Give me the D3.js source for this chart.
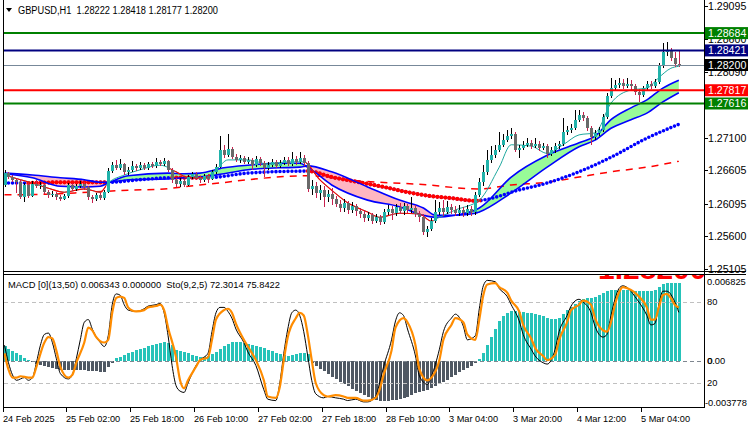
<!DOCTYPE html>
<html><head><meta charset="utf-8">
<script src="https://cdn.jsdelivr.net/npm/d3@7"></script>
<style>body{margin:0;background:#fff;} svg{display:block;font-family:"Liberation Sans",Arial,sans-serif;}</style>
</head><body>
<svg id="c" width="750" height="430"></svg>
<script>
// ---------- DATA ----------
const symbolTitle = "GBPUSD,H1  1.28222 1.28418 1.28177 1.28200";
const subTitle = "MACD [0](13,50) 0.006343 0.000000  Sto(9,2,5) 72.3014 75.8422";

const opens = [1.2638,1.2656,1.2650,1.2646,1.2642,1.2620,1.2638,1.2621,1.2640,1.2636,
1.2638,1.2627,1.2623,1.2624,1.2620,1.2617,1.2621,1.2638,1.2632,1.2636,
1.2640,1.2635,1.2620,1.2617,1.2623,1.2618,1.2627,1.2659,1.2668,1.2664,
1.2670,1.2658,1.2661,1.2667,1.2664,1.2668,1.2664,1.2670,1.2667,1.2673,
1.2670,1.2674,1.2661,1.2646,1.2640,1.2644,1.2638,1.2650,1.2655,1.2649,
1.2646,1.2652,1.2647,1.2658,1.2665,1.2691,1.2684,1.2693,1.2680,1.2676,
1.2679,1.2673,1.2676,1.2668,1.2677,1.2671,1.2664,1.2668,1.2673,1.2667,
1.2671,1.2676,1.2670,1.2677,1.2673,1.2679,1.2671,1.2632,1.2636,1.2626,
1.2630,1.2620,1.2624,1.2617,1.2609,1.2603,1.2611,1.2600,1.2606,1.2599,
1.2594,1.2588,1.2592,1.2583,1.2589,1.2582,1.2597,1.2602,1.2595,1.2605,
1.2599,1.2606,1.2600,1.2603,1.2594,1.2589,1.2567,1.2571,1.2583,1.2597,
1.2603,1.2597,1.2605,1.2600,1.2595,1.2600,1.2595,1.2602,1.2597,1.2623,
1.2642,1.2658,1.2676,1.2684,1.2691,1.2699,1.2706,1.2712,1.2715,1.2691,
1.2694,1.2699,1.2702,1.2697,1.2700,1.2694,1.2697,1.2685,1.2691,1.2697,
1.2700,1.2718,1.2721,1.2724,1.2737,1.2744,1.2740,1.2724,1.2711,1.2717,
1.2721,1.2741,1.2773,1.2785,1.2790,1.2793,1.2788,1.2791,1.2788,1.2779,
1.2774,1.2785,1.2791,1.2788,1.2794,1.2818,1.2840,1.2843,1.2831,1.28222];

const highs = [1.2661,1.2658,1.2653,1.2649,1.2646,1.2641,1.2641,1.2644,1.2646,1.2642,
1.2639,1.2630,1.2629,1.2627,1.2623,1.2624,1.2641,1.2641,1.2639,1.2644,
1.2642,1.2636,1.2623,1.2626,1.2626,1.2630,1.2664,1.2673,1.2676,1.2677,
1.2671,1.2665,1.2674,1.2670,1.2673,1.2671,1.2673,1.2673,1.2679,1.2676,
1.2679,1.2676,1.2664,1.2649,1.2649,1.2647,1.2653,1.2658,1.2658,1.2652,
1.2655,1.2655,1.2661,1.2670,1.2712,1.2699,1.2715,1.2696,1.2685,1.2683,
1.2682,1.2680,1.2679,1.2682,1.2680,1.2674,1.2673,1.2677,1.2676,1.2676,
1.2680,1.2680,1.2688,1.2682,1.2688,1.2683,1.2674,1.2646,1.2642,1.2638,
1.2636,1.2630,1.2633,1.2621,1.2615,1.2617,1.2614,1.2612,1.2609,1.2603,
1.2599,1.2597,1.2595,1.2594,1.2592,1.2602,1.2608,1.2606,1.2609,1.2611,
1.2611,1.2609,1.2620,1.2608,1.2599,1.2594,1.2576,1.2588,1.2615,1.2612,
1.2615,1.2614,1.2609,1.2606,1.2608,1.2605,1.2608,1.2606,1.2627,1.2649,
1.2668,1.2691,1.2697,1.2699,1.2718,1.2715,1.2721,1.2724,1.2718,1.2699,
1.2705,1.2709,1.2706,1.2709,1.2705,1.2702,1.2700,1.2696,1.2702,1.2705,
1.2740,1.2727,1.2730,1.2752,1.2752,1.2749,1.2743,1.2727,1.2721,1.2726,
1.2746,1.2778,1.2800,1.2797,1.2800,1.2799,1.2800,1.2797,1.2791,1.2784,
1.2788,1.2796,1.2796,1.2799,1.2823,1.2853,1.2855,1.2846,1.2840,1.28418];

const lows = [1.2635,1.2647,1.2642,1.2626,1.2617,1.2612,1.2618,1.2620,1.2633,1.2632,
1.2624,1.2618,1.2620,1.2615,1.2614,1.2615,1.2618,1.2629,1.2629,1.2633,
1.2630,1.2615,1.2611,1.2614,1.2615,1.2615,1.2626,1.2656,1.2661,1.2661,
1.2653,1.2653,1.2658,1.2659,1.2661,1.2661,1.2661,1.2664,1.2664,1.2667,
1.2667,1.2658,1.2641,1.2635,1.2635,1.2635,1.2636,1.2647,1.2646,1.2641,
1.2642,1.2641,1.2646,1.2655,1.2664,1.2679,1.2680,1.2677,1.2673,1.2671,
1.2670,1.2670,1.2661,1.2665,1.2667,1.2650,1.2661,1.2665,1.2664,1.2664,
1.2668,1.2667,1.2667,1.2668,1.2670,1.2667,1.2627,1.2623,1.2618,1.2615,
1.2605,1.2612,1.2608,1.2605,1.2597,1.2597,1.2594,1.2595,1.2591,1.2588,
1.2582,1.2583,1.2579,1.2580,1.2577,1.2579,1.2592,1.2585,1.2591,1.2594,
1.2592,1.2595,1.2595,1.2589,1.2582,1.2562,1.2559,1.2568,1.2580,1.2592,
1.2591,1.2594,1.2594,1.2591,1.2591,1.2589,1.2591,1.2591,1.2592,1.2620,
1.2636,1.2653,1.2671,1.2679,1.2688,1.2696,1.2703,1.2708,1.2688,1.2679,
1.2691,1.2696,1.2693,1.2694,1.2690,1.2691,1.2679,1.2682,1.2686,1.2693,
1.2697,1.2714,1.2717,1.2721,1.2733,1.2735,1.2720,1.2699,1.2706,1.2712,
1.2718,1.2738,1.2770,1.2782,1.2785,1.2784,1.2785,1.2782,1.2774,1.2764,
1.2771,1.2782,1.2784,1.2785,1.2791,1.2815,1.2834,1.2826,1.2817,1.28177];

const closes = [1.2656,1.2650,1.2646,1.2642,1.2620,1.2638,1.2621,1.2640,1.2636,1.2638,
1.2627,1.2623,1.2624,1.2620,1.2617,1.2621,1.2638,1.2632,1.2636,1.2640,
1.2635,1.2620,1.2617,1.2623,1.2618,1.2627,1.2659,1.2668,1.2664,1.2670,
1.2658,1.2661,1.2667,1.2664,1.2668,1.2664,1.2670,1.2667,1.2673,1.2670,
1.2674,1.2661,1.2646,1.2640,1.2644,1.2638,1.2650,1.2655,1.2649,1.2646,
1.2652,1.2647,1.2658,1.2665,1.2691,1.2684,1.2693,1.2680,1.2676,1.2679,
1.2673,1.2676,1.2668,1.2677,1.2671,1.2664,1.2668,1.2673,1.2667,1.2671,
1.2676,1.2670,1.2677,1.2673,1.2679,1.2671,1.2632,1.2636,1.2626,1.2630,
1.2620,1.2624,1.2617,1.2609,1.2603,1.2611,1.2600,1.2606,1.2599,1.2594,
1.2588,1.2592,1.2583,1.2589,1.2582,1.2597,1.2602,1.2595,1.2605,1.2599,
1.2606,1.2600,1.2603,1.2594,1.2589,1.2567,1.2571,1.2583,1.2597,1.2603,
1.2597,1.2605,1.2600,1.2595,1.2600,1.2595,1.2602,1.2597,1.2623,1.2642,
1.2658,1.2676,1.2684,1.2691,1.2699,1.2706,1.2712,1.2715,1.2691,1.2694,
1.2699,1.2702,1.2697,1.2700,1.2694,1.2697,1.2685,1.2691,1.2697,1.2700,
1.2718,1.2721,1.2724,1.2737,1.2744,1.2740,1.2724,1.2711,1.2717,1.2721,
1.2741,1.2773,1.2785,1.2790,1.2793,1.2788,1.2791,1.2788,1.2779,1.2774,
1.2785,1.2791,1.2788,1.2794,1.2818,1.2840,1.2843,1.2831,1.28222,1.28200];

// time axis labels: [bar index, text]
const timeLabels = [[0,"24 Feb 2025"],[16,"25 Feb 02:00"],[32,"25 Feb 18:00"],[48,"26 Feb 10:00"],
[64,"27 Feb 02:00"],[80,"27 Feb 18:00"],[96,"28 Feb 10:00"],[112,"3 Mar 04:00"],
[128,"3 Mar 20:00"],[144,"4 Mar 12:00"],[160,"5 Mar 04:00"]];
const priceTicks = ["1.29095","1.28600","1.28090","1.27595","1.27100","1.26605","1.26095","1.25600","1.25105"];

// horizontal levels
const levelPrices = [1.28684, 1.28421, 1.27817, 1.27616];
const levelColors = ["#008000", "#000080", "#ff0000", "#008000"];
const bidPrice = 1.28200;

// moving-average ribbon (fast / slow), [bar, price]
const ribbonFast = [[0,1.2655],[7,1.2649],[14,1.2636],[20,1.2635],[24,1.2636],[26,1.2641],[31,1.2652],[41,1.2656],[45,1.2655],[49,1.2656],[55,1.2664],[61,1.2668],[69,1.2671],[74,1.2671],[76,1.2665],[82,1.2638],[91,1.2615],[99,1.2605],[105,1.2592],[108,1.2589],[113,1.2592],[118,1.2600],[119,1.2603],[127,1.2650],[136,1.2683],[144,1.2702],[148,1.2712],[152,1.2737],[157,1.2755],[161,1.2767],[165,1.2785],[169,1.2797]];
const ribbonSlow = [[0,1.2656],[7,1.2653],[14,1.2649],[20,1.2646],[24,1.2642],[26,1.2642],[31,1.2646],[41,1.2647],[45,1.2649],[49,1.2650],[55,1.2655],[61,1.2661],[69,1.2664],[74,1.2665],[76,1.2667],[82,1.2658],[91,1.2635],[99,1.2615],[105,1.2603],[108,1.2592],[113,1.2592],[118,1.2595],[119,1.2597],[127,1.2626],[136,1.2665],[144,1.2696],[148,1.2706],[152,1.2724],[157,1.2737],[161,1.2747],[165,1.2764],[169,1.2778]];

// thin fast line and its red (falling) stretches
const fastLine = [[0,1.2653],[4,1.2646],[7,1.2641],[11,1.2633],[15,1.2627],[20,1.2632],[24,1.2627],[26,1.2641],[30,1.2653],[34,1.2661],[39,1.2668],[43,1.2658],[46,1.2649],[50,1.2649],[53,1.2661],[56,1.2676],[61,1.2676],[66,1.2670],[71,1.2673],[75,1.2673],[79,1.2646],[82,1.2630],[86,1.2611],[91,1.2597],[94,1.2589],[99,1.2595],[104,1.2594],[107,1.2583],[109,1.2589],[113,1.2600],[119,1.2615],[124,1.2665],[127,1.2699],[132,1.2697],[136,1.2686],[140,1.2699],[144,1.2714],[148,1.2717],[152,1.2762],[157,1.2782],[161,1.2785],[164,1.2801],[167,1.2815],[169,1.2818]];
const fastRedRanges = [[0,25],[42,51],[76,107]];

// dotted slow MA and its red stretches
const slowDots = [[0,1.2641],[6,1.2641],[14,1.2642],[26,1.2642],[34,1.2646],[42,1.2649],[51,1.2649],[61,1.2656],[76,1.2659],[82,1.2650],[89,1.2642],[95,1.2635],[101,1.2627],[107,1.2621],[112,1.2618],[118,1.2614],[124,1.2621],[127,1.2627],[136,1.2641],[144,1.2658],[152,1.2680],[161,1.2709],[169,1.2730]];
const slowRedRanges = [[6,26],[42,51],[76,119]];

// long dashed MA
const longDash = [[0,1.2623],[11,1.2624],[21,1.2627],[31,1.2630],[40,1.2632],[49,1.2638],[54,1.2641],[61,1.2646],[76,1.2652],[89,1.2644],[104,1.2639],[119,1.2632],[127,1.2638],[136,1.2642],[144,1.2650],[152,1.2658],[161,1.2665],[169,1.2674]];

// MACD histogram, one value per bar
const macdHist = [0.00122,0.00098,0.00082,0.00065,0.00049,0.00024,0.00008,-0.00008,-0.00024,-0.00033,
-0.00041,-0.00049,-0.00057,-0.00065,-0.00073,-0.00073,-0.00073,-0.00073,-0.00073,-0.00073,
-0.00073,-0.00082,-0.00082,-0.00082,-0.00090,-0.00090,-0.00049,-0.00016,0.00024,0.00033,
0.00049,0.00065,0.00073,0.00090,0.00098,0.00106,0.00122,0.00131,0.00139,0.00147,
0.00151,0.00147,0.00131,0.00090,0.00082,0.00073,0.00065,0.00049,0.00041,0.00033,
0.00033,0.00041,0.00057,0.00073,0.00098,0.00122,0.00139,0.00155,0.00155,0.00155,
0.00147,0.00139,0.00131,0.00122,0.00114,0.00106,0.00090,0.00082,0.00065,0.00057,
0.00049,0.00041,0.00049,0.00057,0.00065,0.00065,0.00057,-0.00016,-0.00041,-0.00065,
-0.00082,-0.00106,-0.00131,-0.00147,-0.00171,-0.00188,-0.00204,-0.00228,-0.00245,-0.00261,
-0.00277,-0.00294,-0.00310,-0.00318,-0.00326,-0.00326,-0.00326,-0.00318,-0.00318,-0.00310,
-0.00302,-0.00294,-0.00277,-0.00261,-0.00253,-0.00245,-0.00237,-0.00220,-0.00204,-0.00188,
-0.00171,-0.00155,-0.00131,-0.00114,-0.00090,-0.00073,-0.00057,-0.00041,-0.00016,0.00016,
0.00065,0.00131,0.00196,0.00261,0.00326,0.00367,0.00392,0.00408,0.00408,0.00400,
0.00400,0.00392,0.00392,0.00384,0.00375,0.00367,0.00351,0.00343,0.00343,0.00351,
0.00384,0.00416,0.00441,0.00465,0.00490,0.00506,0.00514,0.00514,0.00522,0.00539,
0.00555,0.00571,0.00579,0.00579,0.00579,0.00579,0.00579,0.00571,0.00571,0.00571,
0.00571,0.00571,0.00571,0.00579,0.00604,0.00628,0.00636,0.00636,0.00636,0.006343];

// Stochastic main and signal, [bar, value]
const stochMain = [[0,48],[1,35],[2,26],[3,22],[5,24],[6,22],[7,24],[8,35],[9,48],[10,56],[11,57],[12,50],[13,38],[14,27],[16,23],[17,26],[18,38],[19,52],[20,65],[21,67],[22,60],[23,54],[24,50],[25,47],[26,55],[27,78],[28,86],[29,85],[30,78],[31,74],[33,73],[35,75],[36,77],[38,78],[39,79],[40,72],[41,55],[42,33],[43,18],[44,14],[45,13],[46,20],[48,33],[49,37],[51,42],[52,58],[53,72],[54,76],[55,76],[56,73],[57,68],[58,60],[60,50],[61,43],[63,33],[65,15],[66,8],[68,7],[69,20],[70,42],[71,60],[72,72],[73,74],[74,70],[75,58],[76,40],[77,22],[78,12],[80,9],[81,10],[83,9],[85,8],[86,7],[88,8],[90,6],[91,6],[93,10],[94,20],[95,32],[97,52],[98,66],[99,72],[100,70],[101,60],[103,40],[104,25],[106,19],[107,25],[109,45],[110,58],[112,68],[113,71],[115,62],[116,52],[118,55],[119,75],[120,92],[121,96],[123,95],[124,90],[126,84],[127,78],[129,66],[130,56],[132,45],[133,40],[135,35],[136,34],[138,45],[139,58],[141,70],[142,77],[144,82],[145,80],[147,72],[148,62],[150,54],[151,56],[152,70],[153,82],[154,90],[155,92],[157,88],[158,84],[159,80],[161,70],[162,63],[163,64],[164,78],[165,88],[166,88],[168,80],[169,72.3014]];
const stochSignal = [[0,42],[1,30],[2,24],[3,24],[4,25],[6,24],[7,24],[8,32],[10,50],[11,54],[12,53],[13,44],[14,32],[16,24],[17,26],[18,35],[20,50],[21,61],[22,59],[23,54],[25,50],[26,52],[27,72],[28,83],[29,84],[30,83],[31,76],[33,73],[35,74],[36,76],[38,77],[39,78],[40,74],[41,61],[43,39],[44,22],[45,16],[46,22],[48,32],[49,37],[51,39],[52,52],[53,67],[55,74],[56,75],[57,72],[58,64],[60,52],[61,47],[63,37],[65,22],[66,10],[68,9],[69,17],[70,37],[71,54],[73,68],[74,72],[75,70],[76,56],[77,37],[78,20],[80,11],[81,10],[83,11],[85,10],[86,9],[88,9],[90,7],[91,7],[93,9],[94,15],[95,26],[97,44],[98,61],[100,68],[101,65],[103,48],[104,30],[106,22],[107,24],[109,37],[110,52],[112,63],[113,68],[115,65],[116,56],[118,52],[119,67],[120,85],[121,93],[123,94],[124,91],[126,87],[127,81],[129,73],[130,63],[132,53],[133,46],[135,40],[136,37],[138,41],[139,52],[141,65],[142,74],[144,78],[145,81],[147,78],[148,68],[150,59],[151,58],[152,65],[153,78],[154,87],[155,91],[157,89],[158,87],[159,84],[161,76],[162,67],[163,67],[164,76],[165,85],[166,86],[167,83],[168,78],[169,75.8422]];
const stochLevels = [80, 20];
const macdRange = [-0.003778, 0.006825];

// ---------- DRAW ----------
const svg = d3.select("#c");
const PL = 4, PR = 704;
const MAIN = {t: 0, b: 271}, SUB = {t: 275, b: 407};
const N = closes.length;
const x = d3.scaleLinear().domain([0, N - 1]).range([4.5, 4.5 + 3.99 * (N - 1)]);
const yP = d3.scaleLinear().domain([1.25105, 1.29095]).range([269, 6]);
const yM = d3.scaleLinear().domain(macdRange).range([407, 277]);
const yS = d3.scaleLinear().domain([0, 100]).range([410, 275]);

const defs = svg.append("defs");
defs.append("clipPath").attr("id", "mainClip").append("rect").attr("x", PL).attr("y", MAIN.t).attr("width", PR - PL).attr("height", MAIN.b - MAIN.t);
defs.append("clipPath").attr("id", "subClip").append("rect").attr("x", PL).attr("y", SUB.t).attr("width", PR - PL).attr("height", SUB.b - SUB.t);
function rangeClip(id, ranges) {
  const cp = defs.append("clipPath").attr("id", id);
  ranges.forEach(r => cp.append("rect").attr("x", x(r[0] - 0.5)).attr("y", 0).attr("width", x(r[1] + 0.5) - x(r[0] - 0.5)).attr("height", 430));
}
rangeClip("fastRed", fastRedRanges);
rangeClip("slowRed", slowRedRanges);

const main = svg.append("g").attr("clip-path", "url(#mainClip)");
const lineP = d3.line().x(d => x(d[0])).y(d => yP(d[1])).curve(d3.curveMonotoneX);

// ribbon fill
const rib = ribbonFast.map((d, k) => ({i: d[0], f: d[1], s: ribbonSlow[k][1]}));
main.append("path").datum(rib).attr("fill", "#98fb98")
  .attr("d", d3.area().x(d => x(d.i)).y0(d => yP(d.s)).y1(d => yP(Math.max(d.f, d.s))).curve(d3.curveMonotoneX));
main.append("path").datum(rib).attr("fill", "#ffb6c1")
  .attr("d", d3.area().x(d => x(d.i)).y0(d => yP(d.s)).y1(d => yP(Math.min(d.f, d.s))).curve(d3.curveMonotoneX));

// long dashed red MA
main.append("path").datum(longDash).attr("d", lineP).attr("fill", "none")
  .attr("stroke", "#ff0000").attr("stroke-width", 1.5).attr("stroke-dasharray", "7 6");

// dotted slow MA
const dotsG = main.append("g");
dotsG.append("path").datum(slowDots).attr("d", lineP).attr("fill", "none")
  .attr("stroke", "#0000ff").attr("stroke-width", 3.6).attr("stroke-linecap", "round").attr("stroke-dasharray", "0 4");
dotsG.append("g").attr("clip-path", "url(#slowRed)").append("path").datum(slowDots).attr("d", lineP).attr("fill", "none")
  .attr("stroke", "#ff0000").attr("stroke-width", 4.2).attr("stroke-linecap", "round").attr("stroke-dasharray", "0 4");

// ribbon border lines
main.append("path").datum(ribbonFast).attr("d", lineP).attr("fill", "none").attr("stroke", "#0000ff").attr("stroke-width", 1.6);
main.append("path").datum(ribbonSlow).attr("d", lineP).attr("fill", "none").attr("stroke", "#0000ff").attr("stroke-width", 1.6);

// fast thin line
main.append("path").datum(fastLine).attr("d", lineP).attr("fill", "none").attr("stroke", "#1fa89f").attr("stroke-width", 1);
main.append("g").attr("clip-path", "url(#fastRed)").append("path").datum(fastLine).attr("d", lineP).attr("fill", "none").attr("stroke", "#ff0000").attr("stroke-width", 1.1);

// candles
const candles = d3.range(N).map(i => ({i, o: opens[i], h: highs[i], l: lows[i], c: closes[i]}));
const cg = main.append("g").attr("shape-rendering", "crispEdges");
const cs = cg.selectAll("g").data(candles).join("g");
cs.append("line")
  .attr("x1", d => Math.round(x(d.i)) + 0.5).attr("x2", d => Math.round(x(d.i)) + 0.5)
  .attr("y1", d => yP(d.h)).attr("y2", d => yP(d.l))
  .attr("stroke", d => d.c >= d.o ? "#000000" : "#c8204e").attr("stroke-width", 1);
cs.append("rect")
  .attr("x", d => Math.round(x(d.i)) - 1).attr("width", 3)
  .attr("y", d => Math.round(yP(Math.max(d.o, d.c))))
  .attr("height", d => Math.max(1, Math.round(yP(Math.min(d.o, d.c))) - Math.round(yP(Math.max(d.o, d.c)))))
  .attr("fill", d => d.c >= d.o ? "#20b2aa" : "#696969");

// horizontal levels
levelPrices.forEach((p, k) => {
  main.append("line").attr("x1", PL).attr("x2", PR).attr("y1", yP(p)).attr("y2", yP(p))
    .attr("stroke", levelColors[k]).attr("stroke-width", 2);
});
main.append("line").attr("x1", PL).attr("x2", PR).attr("y1", Math.round(yP(bidPrice)) + 0.5).attr("y2", Math.round(yP(bidPrice)) + 0.5)
  .attr("stroke", "#778899").attr("stroke-width", 1);

// ---------- MACD / Stochastic sub window ----------
const sub = svg.append("g").attr("clip-path", "url(#subClip)");
// big red overlay text, mostly hidden above the sub window
sub.append("text").attr("x", 598).attr("y", 279).attr("fill", "#ff0000")
  .attr("font-size", 30).attr("font-weight", "bold").text("1.28200");

sub.append("g").attr("shape-rendering", "crispEdges").selectAll("rect").data(macdHist).join("rect")
  .attr("x", (d, i) => Math.round(x(i)) - 1).attr("width", 3)
  .attr("y", d => Math.round(Math.min(yM(0), yM(d))))
  .attr("height", d => Math.max(1, Math.round(Math.abs(yM(d) - yM(0)))))
  .attr("fill", d => d >= 0 ? "#26c3b9" : "#4f5863");

stochLevels.forEach(v => {
  sub.append("line").attr("x1", PL).attr("x2", PR).attr("y1", Math.round(yS(v)) + 0.5).attr("y2", Math.round(yS(v)) + 0.5)
    .attr("stroke", "#c0c0c0").attr("stroke-dasharray", "4 3");
});
sub.append("line").attr("x1", PL).attr("x2", PR).attr("y1", Math.round(yM(0)) + 0.5).attr("y2", Math.round(yM(0)) + 0.5)
  .attr("stroke", "#7f8790").attr("stroke-dasharray", "4 3");

const lineS = d3.line().x(d => x(d[0])).y(d => yS(d[1])).curve(d3.curveMonotoneX);
sub.append("path").datum(stochMain).attr("d", lineS).attr("fill", "none").attr("stroke", "#000").attr("stroke-width", 1);
sub.append("path").datum(stochSignal).attr("d", lineS).attr("fill", "none").attr("stroke", "#ff8c00").attr("stroke-width", 2.2);

// ---------- frames & axes ----------
const fr = svg.append("g").attr("shape-rendering", "crispEdges").attr("stroke", "#000");
fr.append("line").attr("x1", 3.5).attr("x2", 3.5).attr("y1", 0).attr("y2", 408);
fr.append("line").attr("x1", PR + 0.5).attr("x2", PR + 0.5).attr("y1", 0).attr("y2", 408);
fr.append("line").attr("x1", 3).attr("x2", 746).attr("y1", 271.5).attr("y2", 271.5);
fr.append("line").attr("x1", 3).attr("x2", 746).attr("y1", 274.5).attr("y2", 274.5);
fr.append("line").attr("x1", 3).attr("x2", PR + 1).attr("y1", 407.5).attr("y2", 407.5);

// price axis ticks / labels
const pa = svg.append("g").attr("font-size", 10.6).attr("fill", "#000");
priceTicks.forEach(t => {
  const yy = Math.round(yP(+t)) + 0.5;
  fr.append("line").attr("x1", PR).attr("x2", PR + 4).attr("y1", yy).attr("y2", yy);
  pa.append("text").attr("x", 708).attr("y", yy).attr("dy", "0.36em").text(t);
});
// price boxes
const boxes = [[1.28684, "#008000"], [1.28421, "#000080"], [1.28200, "#000000"], [1.27817, "#ff0000"], [1.27616, "#008000"]];
boxes.forEach(b => {
  const yy = yP(b[0]);
  svg.append("rect").attr("x", 705).attr("y", yy - 6).attr("width", 43).attr("height", 12).attr("fill", b[1]);
  svg.append("text").attr("x", 708).attr("y", yy).attr("dy", "0.36em").attr("font-size", 10.6).attr("fill", "#fff").text(b[0].toFixed(5));
});

// sub-window axis labels
const sa = svg.append("g").attr("font-size", 9.3).attr("fill", "#000");
sa.append("text").attr("x", 707).attr("y", 282).attr("dy", "0.36em").text(macdRange[1].toFixed(6));
sa.append("text").attr("x", 707).attr("y", yS(80)).attr("dy", "0.36em").text("80");
sa.append("text").attr("x", 707).attr("y", yM(0)).attr("dy", "0.36em").text("0.00");
sa.append("text").attr("x", 707.6).attr("y", yM(0)).attr("dy", "0.36em").text("0");
sa.append("text").attr("x", 707).attr("y", yS(20)).attr("dy", "0.36em").text("20");
sa.append("text").attr("x", 705).attr("y", 403).attr("dy", "0.36em").text(macdRange[0].toFixed(6));

// time axis
const ta = svg.append("g").attr("font-size", 9.2).attr("fill", "#000");
timeLabels.forEach(t => {
  const xx = Math.round(x(t[0])) - 1.5;
  fr.append("line").attr("x1", xx).attr("x2", xx).attr("y1", 407).attr("y2", 412);
  ta.append("text").attr("x", xx - 0.5).attr("y", 422).text(t[1]);
});

// titles
svg.append("path").attr("d", "M6,8 L12,8 L9,12 Z").attr("fill", "#000");
svg.append("text").attr("x", 18).attr("y", 14).attr("font-size", 10).style("white-space", "pre")
  .attr("textLength", 200).attr("lengthAdjust", "spacingAndGlyphs").text(symbolTitle);
svg.append("text").attr("x", 8).attr("y", 287.5).attr("font-size", 9.5).style("white-space", "pre")
  .attr("textLength", 272).attr("lengthAdjust", "spacingAndGlyphs").text(subTitle);
</script>
</body></html>
